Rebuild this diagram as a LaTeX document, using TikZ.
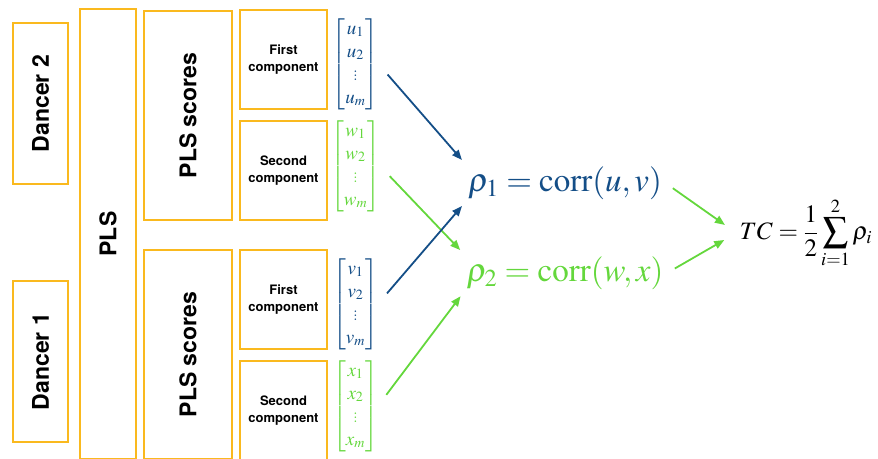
\documentclass[tikz,border=0pt]{standalone}
\usepackage{amsmath}
\usepackage{mathptmx}
\usepackage{fontspec}
\setsansfont{TeX Gyre Heros}
\usetikzlibrary{arrows.meta}

\definecolor{boxorange}{RGB}{250,185,30}
\definecolor{corrblue}{RGB}{20,78,135}
\definecolor{corrgreen}{RGB}{100,215,60}

\begin{document}
\begin{tikzpicture}[x=1pt, y=-1pt,
  box/.style={draw=boxorange, line width=1.8pt, inner sep=0pt, align=center},
  bigtext/.style={font=\sffamily\bfseries\fontsize{23}{27}\selectfont},
  comptext/.style={font=\sffamily\bfseries\fontsize{13}{17}\selectfont},
  vec/.style={inner sep=0pt, font=\fontsize{19}{23}\selectfont},
  arr/.style={-{Triangle[length=10pt, width=8pt]}, line width=1.8pt}]

\clip (0,0) rectangle (878,458); % boxes run off the bottom edge

% dancers and PLS
\node (dancer2)[box, bigtext, rotate=90, minimum width=161pt, minimum height=55pt] at (40.5,103.5) {Dancer 2};
\node (dancer1)[box, bigtext, rotate=90, minimum width=161pt, minimum height=55pt] at (40.5,361.5) {Dancer 1};
\node (pls)[box, bigtext, rotate=90, minimum width=450pt, minimum height=56pt] at (108,234) {PLS};

% PLS scores
\node (scores2)[box, bigtext, rotate=90, minimum width=209pt, minimum height=88pt] at (188,115.5) {PLS scores};
\node (scores1)[box, bigtext, rotate=90, minimum width=209pt, minimum height=88pt] at (188,354.5) {PLS scores};

% components
\node (first2)[box, comptext, minimum width=87pt, minimum height=99pt] at (283.5,59.5) {First\\component};
\node (second2)[box, comptext, minimum width=87pt, minimum height=99pt] at (283.5,170.5) {Second\\component};
\node (first1)[box, comptext, minimum width=87pt, minimum height=99pt] at (283.5,299.5) {First\\component};
\node (second1)[box, comptext, minimum width=87pt, minimum height=99pt] at (283.5,410.5) {Second\\component};

% score vectors
\node (u)[vec, text=corrblue] at (355.5,64) {$\begin{bmatrix}u_1\\u_2\\\vdots\\u_m\end{bmatrix}$};
\node (w)[vec, text=corrgreen] at (355.5,166) {$\begin{bmatrix}w_1\\w_2\\\vdots\\w_m\end{bmatrix}$};
\node (v)[vec, text=corrblue] at (355.5,304) {$\begin{bmatrix}v_1\\v_2\\\vdots\\v_m\end{bmatrix}$};
\node (x)[vec, text=corrgreen] at (355.5,406) {$\begin{bmatrix}x_1\\x_2\\\vdots\\x_m\end{bmatrix}$};

% correlations
\node (rho1)[text=corrblue, font=\fontsize{33}{40}\selectfont] at (565,183) {$\rho_1 = \mathrm{corr}(u, v)$};
\node (rho2)[text=corrgreen, font=\fontsize{33}{40}\selectfont] at (565,273) {$\rho_2 = \mathrm{corr}(w, x)$};
\node (tc)[font=\fontsize{25}{30}\selectfont] at (806,233) {$\displaystyle TC = \frac{1}{2}\sum_{i=1}^{2}\rho_i$};

\draw[arr, corrblue, shorten <=14pt, shorten >=4pt] (u.east) -- (rho1.north west);
\draw[arr, corrgreen, shorten <=14pt, shorten >=4pt] (w.east) -- (rho2.north west);
\draw[arr, corrblue, shorten <=14pt, shorten >=4pt] (v.east) -- (rho1.south west);
\draw[arr, corrgreen, shorten <=14pt, shorten >=4pt] (x.east) -- (rho2.south west);

\draw[arr, corrgreen, shorten <=9pt, shorten >=14pt] (rho1.east) -- (tc.west);
\draw[arr, corrgreen, shorten <=9pt, shorten >=14pt] (rho2.east) -- (tc.west);
\end{tikzpicture}
\end{document}
